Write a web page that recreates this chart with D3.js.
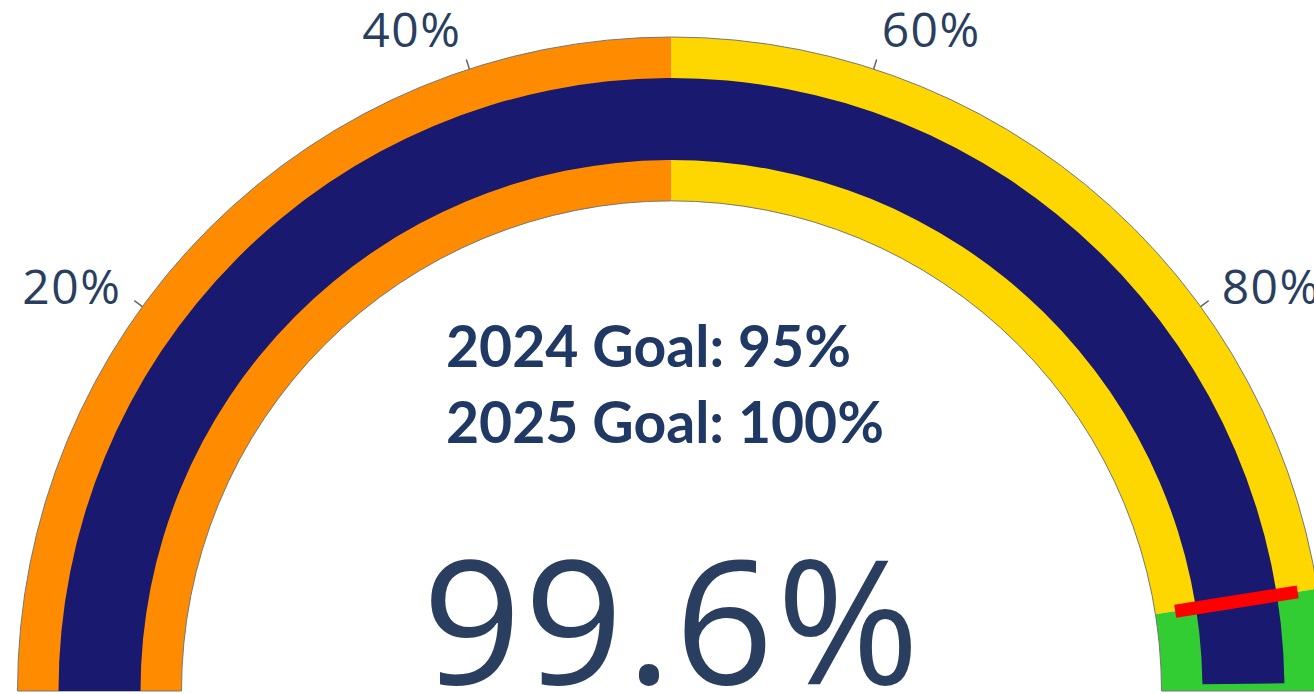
<!DOCTYPE html>
<html>
<head>
<meta charset="utf-8">
<script src="https://cdn.jsdelivr.net/npm/d3@7"></script>
<style>
  html, body { margin: 0; padding: 0; background: #fff; overflow: hidden; }
  svg { display: block; }
</style>
</head>
<body>
<svg id="chart" width="1314" height="694"></svg>
<script>
// gauge data
const gaugeValue = 99.6
const axisRange = [0, 100]
const tickValues = [20, 40, 60, 80]
const tickLabels = ['20%', '40%', '60%', '80%']
const stepRanges = [[0, 50], [50, 95], [95, 100]]
const stepColors = ['#ff8c00', '#ffd700', '#32cd32']
const thresholdValue = 95
const goalLines = ['2024 Goal: 95%', '2025 Goal: 100%']

const cx = 671.5, cy = 691
const rOuter = 654, rInner = 490
const barInner = 531, barOuter = 613
const thrInner = 510, thrOuter = 634

const svg = d3.select('#chart')

// value -> angle (d3.arc angles, 0 = 12 o'clock, clockwise)
const angle = d3.scaleLinear().domain(axisRange).range([-Math.PI / 2, Math.PI / 2])

const g = svg.append('g').attr('transform', `translate(${cx},${cy})`)

const arc = d3.arc()

// steps
g.selectAll('path.step')
  .data(stepRanges)
  .enter().append('path')
  .attr('class', 'step')
  .attr('d', d => arc({innerRadius: rInner, outerRadius: rOuter,
                       startAngle: angle(d[0]), endAngle: angle(d[1])}))
  .attr('fill', (d, i) => stepColors[i])

// gauge border
g.append('path')
  .attr('d', arc({innerRadius: rInner, outerRadius: rOuter,
                  startAngle: angle(axisRange[0]), endAngle: angle(axisRange[1])}))
  .attr('fill', 'none')
  .attr('stroke', '#777')
  .attr('stroke-width', 1)

// value bar
g.append('path')
  .attr('d', arc({innerRadius: barInner, outerRadius: barOuter,
                  startAngle: angle(axisRange[0]), endAngle: angle(gaugeValue)}))
  .attr('fill', '#191970')

// threshold line
const ta = angle(thresholdValue)
g.append('line')
  .attr('x1', thrInner * Math.sin(ta)).attr('y1', -thrInner * Math.cos(ta))
  .attr('x2', thrOuter * Math.sin(ta)).attr('y2', -thrOuter * Math.cos(ta))
  .attr('stroke', '#ff0000')
  .attr('stroke-width', 13)

// ticks
const tickFont = 48
const labelFont = '"Open Sans", "Noto Sans", sans-serif'
g.selectAll('line.tick')
  .data(tickValues)
  .enter().append('line')
  .attr('class', 'tick')
  .attr('x1', d => rOuter * Math.sin(angle(d)))
  .attr('y1', d => -rOuter * Math.cos(angle(d)))
  .attr('x2', d => (rOuter + 10) * Math.sin(angle(d)))
  .attr('y2', d => -(rOuter + 10) * Math.cos(angle(d)))
  .attr('stroke', '#666')
  .attr('stroke-width', 1.5)

g.selectAll('text.tick-label')
  .data(tickValues)
  .enter().append('text')
  .attr('class', 'tick-label')
  .attr('x', d => 680 * Math.sin(angle(d)))
  .attr('y', d => -683 * Math.cos(angle(d)) + Math.abs(Math.sin(angle(d))) * 18)
  .attr('text-anchor', d => d < 50 ? 'end' : (d > 50 ? 'start' : 'middle'))
  .attr('font-family', labelFont)
  .attr('font-size', tickFont)
  .attr('letter-spacing', 1.5)
  .attr('fill', '#2a3f5f')
  .text((d, i) => tickLabels[i])

// goal text
svg.selectAll('text.goal')
  .data(goalLines)
  .enter().append('text')
  .attr('class', 'goal')
  .attr('x', 446)
  .attr('y', (d, i) => 367 + i * 76)
  .attr('font-family', 'Lato, "Open Sans", sans-serif')
  .attr('font-weight', 'bold')
  .attr('font-size', 58)
  .attr('fill', '#1f3864')
  .attr('textLength', (d, i) => i === 0 ? 405 : 438)
  .attr('lengthAdjust', 'spacingAndGlyphs')
  .text(d => d)

// big value
svg.append('text')
  .attr('x', cx + 1)
  .attr('y', 684)
  .attr('text-anchor', 'middle')
  .attr('font-family', labelFont)
  .attr('font-size', 173)
  .attr('letter-spacing', 3)
  .attr('fill', '#2a3f5f')
  .text(d3.format('.1f')(gaugeValue) + '%')
</script>
</body>
</html>
